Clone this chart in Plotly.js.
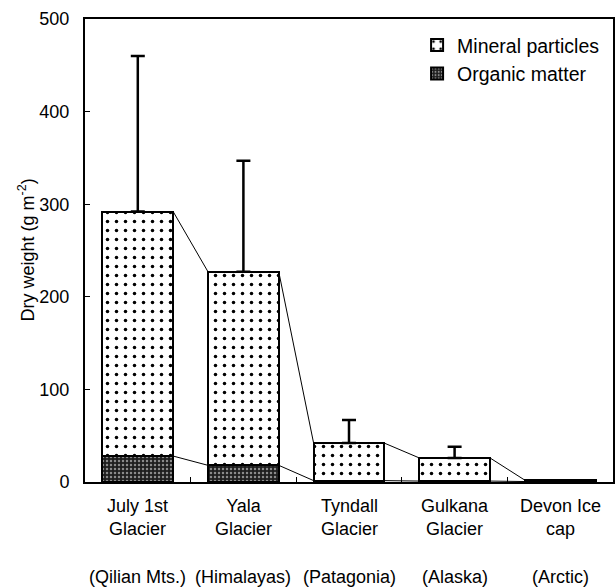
<!DOCTYPE html>
<html>
<head>
<meta charset="utf-8">
<script src="https://cdn.plot.ly/plotly-3.0.1.min.js"></script>
<style>html,body{margin:0;padding:0;background:#fff}#chart{width:615px;height:588px}</style>
</head>
<body>
<div id="chart"></div>
<script>
// Data
const glaciers = ["July 1st<br>Glacier", "Yala<br>Glacier", "Tyndall<br>Glacier", "Gulkana<br>Glacier", "Devon Ice<br>cap"];
const regions = ["(Qilian Mts.)", "(Himalayas)", "(Patagonia)", "(Alaska)", "(Arctic)"];
const organic = [28, 18, 1.5, 1, 0.5];
const mineral = [264, 209, 40.5, 25, 1.5];
const errorUp = [168, 120, 25, 12, 0];
const yTicks = [0, 100, 200, 300, 400, 500];
const yTitle = "Dry weight (g m<sup>-2</sup>)";

const BW = 0.67;
const idx = glaciers.map((_, i) => i);
const totals = mineral.map((m, i) => m + organic[i]);

function connectors(vals) {
  const xs = [], ys = [];
  for (let i = 0; i < vals.length - 1; i++) {
    xs.push(i + BW / 2, i + 1 - BW / 2, null);
    ys.push(vals[i], vals[i + 1], null);
  }
  return {xs, ys};
}
const cTot = connectors(totals);
const cOrg = connectors(organic);

const font = {family: "Liberation Sans, Arial, sans-serif", color: "#000"};

const traces = [
  {
    type: "bar", name: "Organic matter", x: idx, y: organic, width: BW,
    marker: {color: "#1e1e1e", line: {color: "#000", width: 2},
      pattern: {shape: ".", fgcolor: "#8a8a8a", bgcolor: "#1e1e1e", size: 4, solidity: 0.3}},
    hoverinfo: "skip"
  },
  {
    type: "bar", name: "Mineral particles", x: idx, y: mineral, width: BW,
    marker: {color: "#fff", line: {color: "#000", width: 2},
      pattern: {shape: ".", fgcolor: "#000", bgcolor: "#fff", size: 9, solidity: 0.12}},
    hoverinfo: "skip"
  },
  {
    type: "scatter", mode: "lines", x: cTot.xs, y: cTot.ys, showlegend: false,
    line: {color: "#000", width: 1}, hoverinfo: "skip"
  },
  {
    type: "scatter", mode: "lines", x: cOrg.xs, y: cOrg.ys, showlegend: false,
    line: {color: "#000", width: 1}, hoverinfo: "skip"
  },
  {
    type: "scatter", mode: "markers", x: idx, y: totals, showlegend: false,
    marker: {size: 1, color: "rgba(0,0,0,0)"},
    error_y: {type: "data", symmetric: false, array: errorUp, arrayminus: errorUp.map(() => 0),
      color: "#000", thickness: 2.5, width: 7},
    hoverinfo: "skip"
  }
];

const annotations = [];
idx.forEach(i => {
  annotations.push({x: i, y: 0, xref: "x", yref: "paper", yanchor: "top", yshift: -12,
    text: glaciers[i], showarrow: false, font: Object.assign({size: 18}, font)});
  annotations.push({x: i, y: 0, xref: "x", yref: "paper", yanchor: "top", yshift: -83,
    text: regions[i], showarrow: false, font: Object.assign({size: 18}, font)});
});
annotations.push({x: 0, y: 0.5, xref: "paper", yref: "paper", xanchor: "center", yanchor: "middle",
  xshift: -58, textangle: -90, text: yTitle, showarrow: false, font: Object.assign({size: 18}, font)});

const layout = {
  width: 615, height: 588,
  margin: {l: 85, r: 2, t: 19, b: 106},
  paper_bgcolor: "#fff", plot_bgcolor: "#fff",
  barmode: "stack",
  showlegend: true,
  legend: {x: 0.985, xanchor: "right", y: 0.985, yanchor: "top", traceorder: "reversed",
    font: Object.assign({size: 19.5}, font), bgcolor: "rgba(0,0,0,0)", tracegroupgap: 0, itemwidth: 30},
  font: font,
  xaxis: {
    range: [-0.5, 4.5], showgrid: false, zeroline: false,
    showline: true, mirror: true, linecolor: "#000", linewidth: 2,
    tickvals: [0.5, 1.5, 2.5, 3.5], showticklabels: false,
    ticks: "inside", ticklen: 5, tickcolor: "#000", tickwidth: 1, fixedrange: true
  },
  yaxis: {
    range: [0, 500], tickvals: yTicks, ticktext: yTicks.map(String),
    showgrid: false, zeroline: false,
    showline: true, mirror: true, linecolor: "#000", linewidth: 2,
    ticks: "inside", ticklen: 5, tickcolor: "#000", tickwidth: 1,
    tickfont: Object.assign({size: 18}, font), ticklabelstandoff: 10,
    fixedrange: true
  },
  annotations: annotations
};

Plotly.newPlot("chart", traces, layout, {displayModeBar: false, staticPlot: true});
</script>
</body>
</html>
